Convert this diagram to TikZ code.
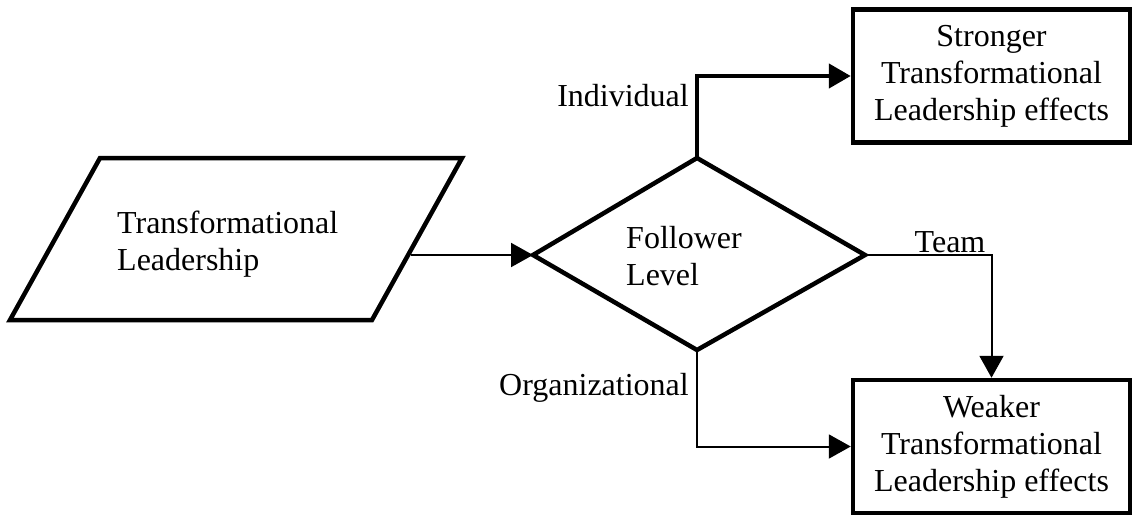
\documentclass[tikz,border=0pt]{standalone}
\usepackage{fontspec}
\setmainfont{Liberation Serif}
\usetikzlibrary{arrows.meta}
\tikzset{
  shapeline/.style={draw=black, line width=4.5pt, line join=miter},
  boxnode/.style={shapeline, rectangle, minimum width=277pt, minimum height=133pt, align=center, inner sep=0pt},
  thinconn/.style={line width=2pt, -{Triangle[length=22pt,width=24pt]}},
  thickconn/.style={line width=4.5pt, -{Triangle[length=22pt,width=24pt]}},
  lbl/.style={inner sep=0pt},
}
\begin{document}
\begin{tikzpicture}[x=1pt,y=-1pt, font=\fontsize{32}{37}\selectfont]
\useasboundingbox (0,0) rectangle (1137,519);
% parallelogram
\coordinate (P1) at (100,158);
\coordinate (P2) at (462,158);
\coordinate (P3) at (372,320);
\coordinate (P4) at (10,320);
\coordinate (Pout) at (411,255);
\draw[shapeline] (P1) -- (P2) -- (P3) -- (P4) -- cycle;
\node[lbl, anchor=west, align=left] (tl) at (117,244) {Transformational\\Leadership};
% diamond
\coordinate (DL) at (533,255);
\coordinate (DT) at (697,158);
\coordinate (DR) at (865,255);
\coordinate (DB) at (697,350);
\draw[shapeline] (DL) -- (DT) -- (DR) -- (DB) -- cycle;
\node[lbl, anchor=west, align=left] (fl) at (626,256) {Follower\\Level};
% boxes
\node[boxnode] (strong) at (991.5,76) {Stronger\\Transformational\\Leadership effects};
\node[boxnode] (weak) at (991.5,446.5) {Weaker\\Transformational\\Leadership effects};
% connectors
\draw[thinconn] (Pout) -- (DL);
\draw[thickconn] (DT) |- (strong.west);
\draw[thinconn] (DR) -| (weak.north);
\draw[thinconn] (DB) |- (weak.west);
% labels
\node[lbl, anchor=east] (li) at (689,96) {Individual};
\node[lbl] (lt) at (950,242) {Team};
\node[lbl, anchor=east] (lo) at (689,388) {Organizational};
\end{tikzpicture}
\end{document}
